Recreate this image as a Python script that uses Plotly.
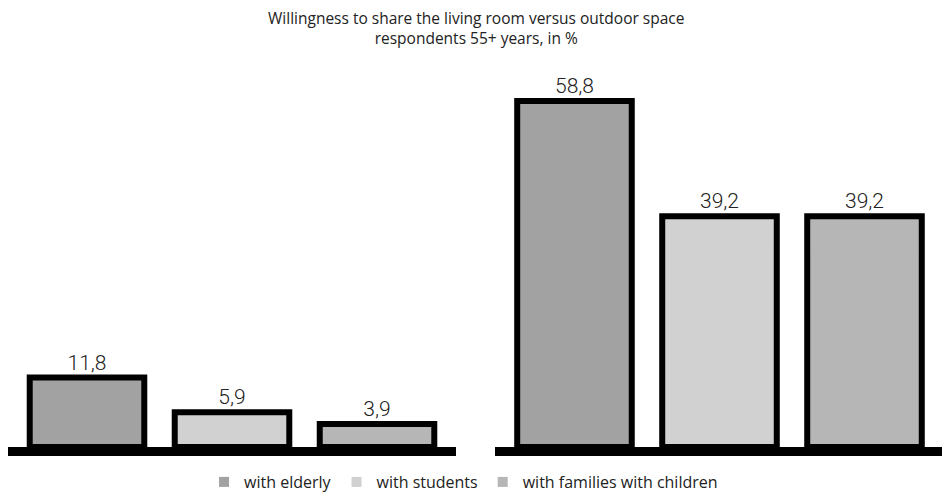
import plotly.graph_objects as go
from plotly.subplots import make_subplots

groups = ['living room', 'outdoor space']
series = ['with elderly', 'with students', 'with families with children']
living_room = [11.8, 5.9, 3.9]
outdoor_space = [58.8, 39.2, 39.2]
colors = ['#a2a2a2', '#d1d1d1', '#b6b6b6']
title_text = 'Willingness to share the living room versus outdoor space<br>respondents 55+ years, in %'

fig = make_subplots(rows=1, cols=2)

# one bar per series in each group panel
for i, name in enumerate(series):
    for col, (grp, vals) in enumerate([(groups[0], living_room), (groups[1], outdoor_space)], start=1):
        fig.add_trace(go.Bar(
            x=[grp],
            y=[vals[i]],
            name=name,
            marker=dict(color=colors[i], line=dict(color='black', width=6)),
            texttemplate='%{y:.1f}',
            textposition='outside',
            textfont=dict(family='Roboto', size=21, color='#222222', weight=300),
            cliponaxis=False,
            showlegend=False,
        ), row=1, col=col)

# legend entries drawn as plain squares
for i, name in enumerate(series):
    fig.add_trace(go.Scatter(
        x=[None], y=[None], mode='markers', name=name,
        marker=dict(symbol='square', size=10, color=colors[i]),
    ), row=1, col=1)

fig.update_xaxes(showticklabels=False, showgrid=False, zeroline=False,
                 showline=True, linecolor='black', linewidth=9, ticks='')
fig.update_yaxes(range=[0, 60], visible=False, showgrid=False)
fig.update_layout(
    xaxis=dict(domain=[0.0, 0.4756]),
    xaxis2=dict(domain=[0.5175, 0.9931]),
    width=942, height=491,
    margin=dict(l=0, r=0, t=86, b=52),
    barmode='group', bargap=0.029, bargroupgap=0.21,
    separators=', ',
    paper_bgcolor='white', plot_bgcolor='white',
    font=dict(family='Open Sans', color='#222222'),
    legend=dict(orientation='h', x=0.4836, xanchor='center',
                yref='container', y=-0.008, yanchor='bottom',
                font=dict(size=16), itemwidth=30),
    showlegend=True,
)
fig.add_annotation(
    text=title_text, xref='paper', yref='paper', x=0.497, y=1.0,
    xanchor='center', yanchor='bottom', yshift=43, showarrow=False,
    font=dict(family='Open Sans', size=15.5, color='#222222'),
)

fig.write_html('out.html')
